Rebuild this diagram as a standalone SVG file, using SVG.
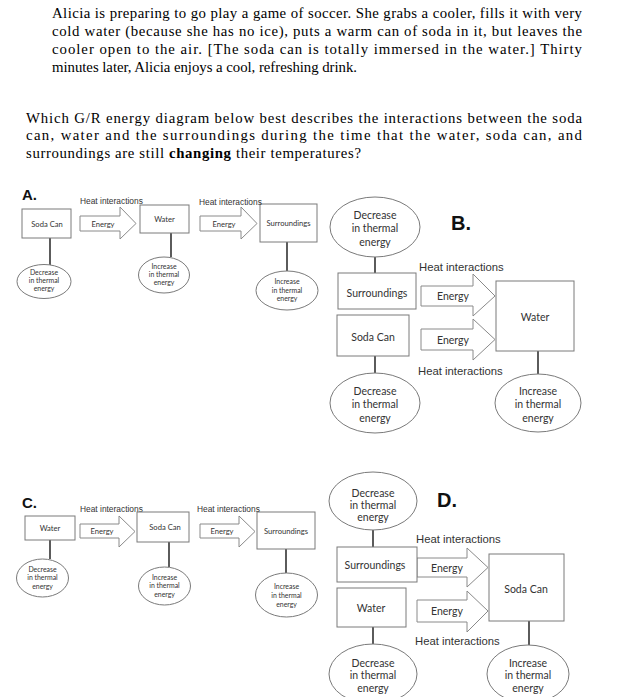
<svg xmlns="http://www.w3.org/2000/svg" width="624" height="697" viewBox="0 0 624 697">
<style>
.p{font-family:"Liberation Serif",serif;font-size:14.8px;fill:#000}
.lbl{font-family:"Liberation Sans",Arial,sans-serif;font-weight:bold;fill:#111}
.hs{font-family:"Liberation Sans",Arial,sans-serif;font-size:8.4px;fill:#333}
.hb{font-family:"Liberation Sans",Arial,sans-serif;font-size:11.3px;fill:#333}
.ts{font-family:Lato,"Open Sans",sans-serif;font-size:7.6px;fill:#333;text-anchor:middle}
.te{font-family:Lato,"Open Sans",sans-serif;font-size:6.9px;fill:#333;text-anchor:middle}
.tb{font-family:Lato,"Open Sans",sans-serif;font-size:10.5px;fill:#333;text-anchor:middle}
.box{fill:#fff;stroke:#7a7a7a;stroke-width:1}
.ell{fill:#fff;stroke:#7a7a7a;stroke-width:1}
.arr{fill:#fff;stroke:#8a8a8a;stroke-width:1}
.ln{stroke:#333;stroke-width:1.6}
</style>
<rect width="624" height="697" fill="#fff"/>
<g id="question">
<text class="p" x="52" y="17.5" textLength="530" lengthAdjust="spacing">Alicia is preparing to go play a game of soccer. She grabs a cooler, fills it with very</text>
<text class="p" x="52" y="35.5" textLength="530" lengthAdjust="spacing">cold water (because she has no ice), puts a warm can of soda in it, but leaves the</text>
<text class="p" x="52" y="53.5" textLength="530" lengthAdjust="spacing">cooler open to the air. [The soda can is totally immersed in the water.] Thirty</text>
<text class="p" x="52" y="71.5" textLength="305" lengthAdjust="spacing">minutes later, Alicia enjoys a cool, refreshing drink.</text>
<text class="p" x="26" y="122.5" textLength="556" lengthAdjust="spacing">Which G/R energy diagram below best describes the interactions between the soda</text>
<text class="p" x="26" y="140" textLength="556" lengthAdjust="spacing">can, water and the surroundings during the time that the water, soda can, and</text>
<text class="p" x="26" y="157.5" textLength="335" lengthAdjust="spacing">surroundings are still <tspan font-weight="bold">changing</tspan> their temperatures?</text>
</g>

<!-- ===== A ===== -->
<g id="A-label"><text class="lbl" x="22" y="200" font-size="15">A.</text></g>
<g id="A-connectors">
<line class="ln" x1="50" y1="238" x2="50" y2="265"/>
<line class="ln" x1="171" y1="233" x2="171" y2="257"/>
<line class="ln" x1="287" y1="242" x2="287" y2="271"/>
<polygon class="arr" points="80,216 120,216 120,207 136,223.5 120,239 120,231 80,231"/>
<polygon class="arr" points="200,216 241,216 241,207 257,223.5 241,239 241,231 200,231"/>
<text class="ts" x="103" y="226.5">Energy</text>
<text class="ts" x="224" y="226.5">Energy</text>
<text class="hs" x="80" y="204">Heat interactions</text>
</g>
<g id="A-soda"><rect class="box" x="22" y="209" width="49" height="29"/><text class="ts" x="47" y="226.5">Soda Can</text></g>
<g id="A-water"><rect class="box" x="140" y="205" width="49" height="28"/><text class="ts" x="164.5" y="221.5">Water</text></g>
<g id="A-surr"><rect class="box" x="260" y="204" width="57" height="38"/><text class="ts" x="288.5" y="226">Surroundings</text></g>
<g id="A-h2"><text class="hs" x="199" y="205">Heat interactions</text></g>
<g id="A-e1"><ellipse class="ell" cx="44" cy="281.5" rx="27" ry="17"/><text class="te" x="44" y="275">Decrease</text><text class="te" x="44" y="283">in thermal</text><text class="te" x="44" y="291">energy</text></g>
<g id="A-e2"><ellipse class="ell" cx="164" cy="275" rx="25.5" ry="18"/><text class="te" x="164" y="268.5">Increase</text><text class="te" x="164" y="276.5">in thermal</text><text class="te" x="164" y="284.5">energy</text></g>
<g id="A-e3"><ellipse class="ell" cx="287" cy="290.5" rx="31" ry="19.5"/><text class="te" x="287" y="284">Increase</text><text class="te" x="287" y="292.5">in thermal</text><text class="te" x="287" y="301">energy</text></g>

<!-- ===== B ===== -->
<g id="B-label"><text class="lbl" x="451" y="230" font-size="20">B.</text></g>
<g id="B-connectors">
<line class="ln" x1="375" y1="257" x2="375" y2="273"/>
<line class="ln" x1="375" y1="356" x2="375" y2="373"/>
<line class="ln" x1="538" y1="351" x2="538" y2="374"/>
<polygon class="arr" points="421,286 473,286 473,274 495,296 473,316 473,306 421,306"/>
<polygon class="arr" points="421,329 473,329 473,319 495,339.5 473,360 473,350 421,350"/>
<text class="tb" x="453" y="300">Energy</text>
<text class="tb" x="453" y="344">Energy</text>
<text class="hb" x="419" y="271">Heat interactions</text>
<text class="hb" x="418" y="375">Heat interactions</text>
</g>
<g id="B-top"><ellipse class="ell" cx="375" cy="227" rx="45" ry="30"/><text class="tb" x="375" y="218.5">Decrease</text><text class="tb" x="375" y="232">in thermal</text><text class="tb" x="375" y="245.5">energy</text></g>
<g id="B-surr"><rect class="box" x="338" y="273" width="78" height="36"/><text class="tb" x="377" y="296.5">Surroundings</text></g>
<g id="B-soda"><rect class="box" x="337" y="315" width="72" height="41"/><text class="tb" x="373" y="340.5">Soda Can</text></g>
<g id="B-water"><rect class="box" x="496" y="281" width="78" height="70"/><text class="tb" x="535" y="321">Water</text></g>
<g id="B-e1"><ellipse class="ell" cx="375" cy="403" rx="45" ry="30"/><text class="tb" x="375" y="394.5">Decrease</text><text class="tb" x="375" y="408">in thermal</text><text class="tb" x="375" y="421.5">energy</text></g>
<g id="B-e2"><ellipse class="ell" cx="538" cy="403" rx="43" ry="29"/><text class="tb" x="538" y="394.5">Increase</text><text class="tb" x="538" y="408">in thermal</text><text class="tb" x="538" y="421.5">energy</text></g>

<!-- ===== C ===== -->
<g id="C-label"><text class="lbl" x="22" y="508" font-size="15">C.</text></g>
<g id="C-connectors">
<line class="ln" x1="50" y1="540" x2="50" y2="559"/>
<line class="ln" x1="169" y1="542" x2="169" y2="567"/>
<line class="ln" x1="286" y1="549" x2="286" y2="573"/>
<polygon class="arr" points="80,524 119,524 119,516 135,531.5 119,547 119,538 80,538"/>
<polygon class="arr" points="200,524 239,524 239,516 255,531.5 239,547 239,538 200,538"/>
<text class="ts" x="102" y="534">Energy</text>
<text class="ts" x="222" y="534">Energy</text>
<text class="hs" x="80" y="512">Heat interactions</text>
</g>
<g id="C-water"><rect class="box" x="25" y="516" width="50" height="24"/><text class="ts" x="50" y="530.5">Water</text></g>
<g id="C-soda"><rect class="box" x="137" y="512" width="52" height="30"/><text class="ts" x="165" y="530">Soda Can</text></g>
<g id="C-surr"><rect class="box" x="257" y="512" width="58" height="37"/><text class="ts" x="286" y="534">Surroundings</text></g>
<g id="C-h2"><text class="hs" x="197" y="512">Heat interactions</text></g>
<g id="C-e1"><ellipse class="ell" cx="42.5" cy="578" rx="26" ry="19"/><text class="te" x="42.5" y="571.5">Decrease</text><text class="te" x="42.5" y="580">in thermal</text><text class="te" x="42.5" y="588.5">energy</text></g>
<g id="C-e2"><ellipse class="ell" cx="164.5" cy="586" rx="26" ry="19"/><text class="te" x="164.5" y="579.5">Increase</text><text class="te" x="164.5" y="588">in thermal</text><text class="te" x="164.5" y="596.5">energy</text></g>
<g id="C-e3"><ellipse class="ell" cx="286.5" cy="595" rx="31" ry="22"/><text class="te" x="286.5" y="588.5">Increase</text><text class="te" x="286.5" y="597.5">in thermal</text><text class="te" x="286.5" y="606.5">energy</text></g>

<!-- ===== D ===== -->
<g id="D-label"><text class="lbl" x="437" y="507" font-size="20">D.</text></g>
<g id="D-connectors">
<line class="ln" x1="373" y1="530" x2="373" y2="547"/>
<line class="ln" x1="373" y1="627" x2="373" y2="644"/>
<line class="ln" x1="529" y1="621" x2="529" y2="645"/>
<polygon class="arr" points="417,558 467,558 467,548 488,567.5 467,587 467,577 417,577"/>
<polygon class="arr" points="417,600 467,600 467,591 488,611 467,632 467,622 417,622"/>
<text class="tb" x="447" y="572">Energy</text>
<text class="tb" x="447" y="615">Energy</text>
<text class="hb" x="416" y="543">Heat interactions</text>
<text class="hb" x="415" y="645">Heat interactions</text>
</g>
<g id="D-top"><ellipse class="ell" cx="373" cy="501" rx="44" ry="29"/><text class="tb" x="373" y="496.5">Decrease</text><text class="tb" x="373" y="508.5">in thermal</text><text class="tb" x="373" y="520.5">energy</text></g>
<g id="D-surr"><rect class="box" x="337" y="547" width="80" height="35"/><text class="tb" x="375" y="569">Surroundings</text></g>
<g id="D-water"><rect class="box" x="337" y="588" width="69" height="39"/><text class="tb" x="371" y="612">Water</text></g>
<g id="D-soda"><rect class="box" x="489" y="554" width="75" height="67"/><text class="tb" x="526" y="592.5">Soda Can</text></g>
<g id="D-e1"><ellipse class="ell" cx="373" cy="674" rx="44" ry="30"/><text class="tb" x="373" y="666.5">Decrease</text><text class="tb" x="373" y="678.5">in thermal</text><text class="tb" x="373" y="691.5">energy</text></g>
<g id="D-e2"><ellipse class="ell" cx="528" cy="674" rx="41" ry="29"/><text class="tb" x="528" y="666.5">Increase</text><text class="tb" x="528" y="678.5">in thermal</text><text class="tb" x="528" y="691.5">energy</text></g>
</svg>
